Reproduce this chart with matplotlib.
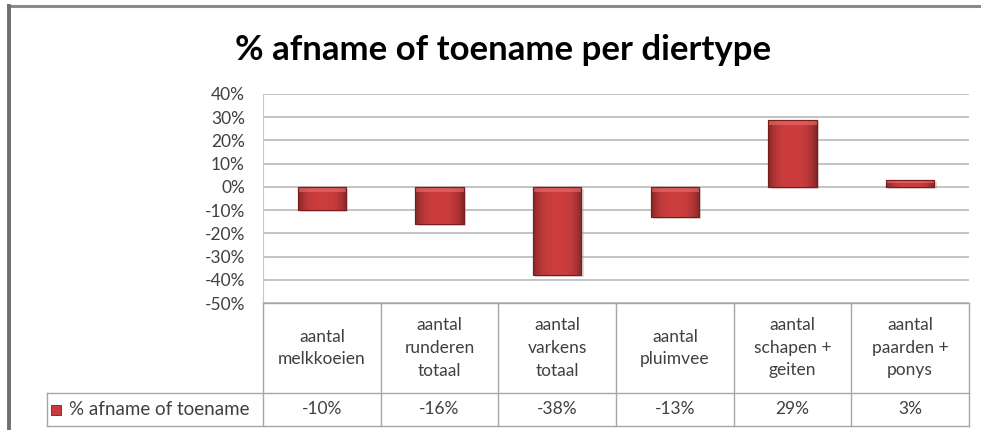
import numpy as np
import matplotlib.pyplot as plt

plt.rcParams['font.family'] = ['Lato', 'DejaVu Sans']

# data
categories = ["aantal\nmelkkoeien", "aantal\nrunderen\ntotaal", "aantal\nvarkens\ntotaal",
              "aantal\npluimvee", "aantal\nschapen +\ngeiten", "aantal\npaarden +\nponys"]
values = [-10, -16, -38, -13, 29, 3]
value_labels = ["-10%", "-16%", "-38%", "-13%", "29%", "3%"]
series_name = "% afname of toename"
yticks = [-50, -40, -30, -20, -10, 0, 10, 20, 30, 40]

W, H = 981, 430
fig = plt.figure(figsize=(W / 100, H / 100), dpi=100)
fig.patch.set_facecolor("white")

def px_rect(x0, y0, x1, y1):
    # pixel box (top-left origin) -> figure fraction rect
    return [x0 / W, (H - y1) / H, (x1 - x0) / W, (y1 - y0) / H]

# outer frame (top and left edges only are visible)
fig.add_artist(plt.Line2D([8 / W, 1], [1 - 6 / H, 1 - 6 / H], color="#8a8a8a", lw=2.2))
fig.add_artist(plt.Line2D([9 / W, 9 / W], [0, 1 - 6 / H], color="#6f6f6f", lw=2.8))

fig.text(503 / W, 1 - 50 / H, "% afname of toename per diertype", ha="center", va="center",
         fontsize=25, fontweight="bold", color="black")

ax = fig.add_axes(px_rect(263, 94, 969, 303))
x = np.arange(len(values))
ax.set_xlim(-0.5, len(values) - 0.5)
ax.set_ylim(-50, 40)
ax.set_yticks(yticks)
ax.set_yticklabels([f"{t}%" for t in yticks], fontsize=12.5, color="#404040")
ax.tick_params(axis="y", length=0, pad=13)
ax.set_xticks([])
ax.grid(axis="y", color="#b3b3b3", lw=1.1)
ax.set_axisbelow(True)
for s in ["top", "right", "bottom"]:
    ax.spines[s].set_visible(False)
ax.spines["left"].set_color("#c8c8c8")

# gradient for bevelled bars
gx = np.linspace(-1, 1, 60)
grad = 1 - 0.35 * np.abs(gx) ** 3
img = np.zeros((1, 60, 3))
base = np.array([0.80, 0.24, 0.24])
img[0] = base[None, :] * grad[:, None]

bars = ax.bar(x, values, width=0.41, color="#c83c3c", edgecolor="#7a1c1c", lw=0.8, zorder=3)
for b in bars:
    bx, by = b.get_x(), b.get_y()
    bw, bh = b.get_width(), b.get_height()
    # soft shadow
    ax.add_patch(plt.Rectangle((bx + 0.02, by - 0.8), bw, bh, color="#999999", alpha=0.35,
                               zorder=2, lw=0))
    im = ax.imshow(img, extent=[bx, bx + bw, by, by + bh], aspect="auto", zorder=3.5,
                   interpolation="bilinear")
    im.set_clip_path(b)
    top = max(by, by + bh)
    hl = min(2.2, abs(bh) * 0.4)
    ax.add_patch(plt.Rectangle((bx, top - hl), bw, hl, color="#ee7070", alpha=0.6, zorder=3.6,
                               lw=0))
    ax.add_patch(plt.Rectangle((bx, by), bw, bh, fill=False, edgecolor="#7a1c1c", lw=0.8,
                               zorder=3.7))

# data table below the plot
leg_w = (263 - 47) / ((969 - 263) / len(values))
tab = fig.add_axes(px_rect(47, 303, 969, 426))
tab.set_xlim(-0.5 - leg_w, len(values) - 0.5)
tab.set_ylim(0, 123)
tab.axis("off")
lc = "#a6a6a6"
row_h = 33
for k in range(len(values) + 1):
    tab.plot([k - 0.5, k - 0.5], [0, 123], color=lc, lw=1, clip_on=False)
tab.plot([-0.5 - leg_w, -0.5 - leg_w], [0, row_h], color=lc, lw=1, clip_on=False)
tab.plot([-0.5 - leg_w, len(values) - 0.5], [0, 0], color=lc, lw=1, clip_on=False)
tab.plot([-0.5 - leg_w, len(values) - 0.5], [row_h, row_h], color=lc, lw=1, clip_on=False)
tab.plot([-0.5, len(values) - 0.5], [123, 123], color=lc, lw=1, clip_on=False)

for i, (c, v) in enumerate(zip(categories, value_labels)):
    tab.text(i, (row_h + 123) / 2, c, ha="center", va="center", fontsize=12.5, color="#404040",
             linespacing=1.5)
    tab.text(i, row_h / 2, v, ha="center", va="center", fontsize=12.5, color="#404040")

tab.add_patch(plt.Rectangle((-0.5 - leg_w + 0.03, row_h / 2 - 5), 0.09, 10, facecolor="#c83c3c",
                            edgecolor="#7a1c1c", lw=0.6, clip_on=False))
tab.text(-0.5 - leg_w + 0.19, row_h / 2, series_name, ha="left", va="center", fontsize=13.5,
         color="#404040")

fig.savefig("out.png", dpi=100)
